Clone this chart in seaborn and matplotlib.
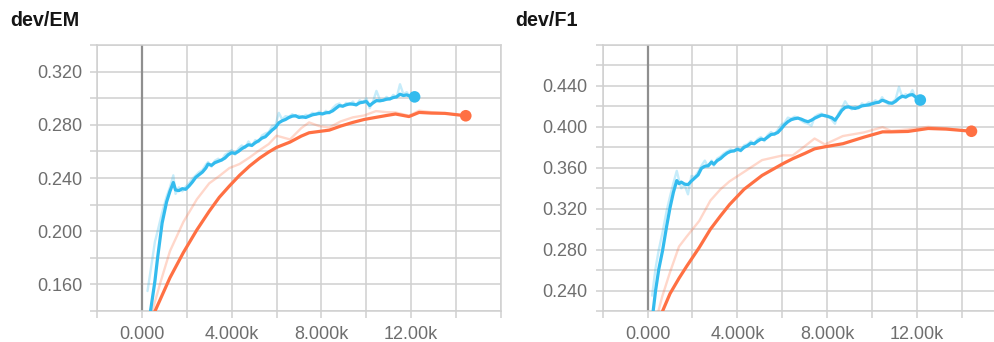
import matplotlib
matplotlib.use("Agg")
import matplotlib.pyplot as plt
import seaborn as sns
from matplotlib.ticker import MultipleLocator, FuncFormatter

# ---------------- data ----------------
titles = ["dev/EM", "dev/F1"]
x_tick_labels = {0: "0.000", 4000: "4.000k", 8000: "8.000k", 12000: "12.00k"}
em_ytick_labels = ["0.160", "0.200", "0.240", "0.280", "0.320"]
f1_ytick_labels = ["0.240", "0.280", "0.320", "0.360", "0.400", "0.440"]

# dev/EM, blue run
em_blue_steps = [250, 385, 580, 700, 900, 1100, 1250, 1400, 1500, 1650, 1800, 1950, 2100,
                 2250, 2400, 2550, 2700, 2850, 2950, 3100, 3250, 3400, 3550, 3700, 3850,
                 4000, 4150, 4300, 4450, 4600, 4750, 4900, 5050, 5200, 5350, 5500, 5650,
                 5800, 5950, 6100, 6250, 6400, 6550, 6700, 6850, 7000, 7150, 7300, 7450,
                 7600, 7750, 7900, 8050, 8200, 8350, 8500, 8650, 8800, 8950, 9100, 9250,
                 9400, 9550, 9700, 9850, 10000, 10150, 10300, 10450, 10600, 10750, 10900,
                 11050, 11200, 11350, 11500, 11650, 11800, 11950, 12150]
em_blue_smooth = [0.122, 0.140, 0.1625, 0.180, 0.206, 0.222, 0.230, 0.2366, 0.2310, 0.2305,
                  0.2320, 0.2315, 0.2340, 0.2370, 0.2405, 0.2425, 0.2445, 0.2475, 0.2505,
                  0.2495, 0.2515, 0.2525, 0.2535, 0.2550, 0.2575, 0.2590, 0.2585, 0.2600,
                  0.2620, 0.2635, 0.2650, 0.2645, 0.2665, 0.2680, 0.2700, 0.2710, 0.2735,
                  0.2760, 0.2780, 0.2815, 0.2830, 0.2840, 0.2855, 0.2865, 0.2868, 0.2855,
                  0.2860, 0.2855, 0.2865, 0.2875, 0.2880, 0.2885, 0.2882, 0.2890, 0.2893,
                  0.2905, 0.2925, 0.2944, 0.2940, 0.2950, 0.2957, 0.2955, 0.2950, 0.2965,
                  0.2970, 0.2975, 0.2945, 0.2965, 0.2982, 0.2980, 0.2985, 0.2992, 0.2995,
                  0.3005, 0.3010, 0.3030, 0.3020, 0.3025, 0.3015, 0.3010]
em_blue_raw = [0.155, 0.170, 0.192, 0.200, 0.214, 0.226, 0.233, 0.2420, 0.2280, 0.2330,
               0.2300, 0.2335, 0.2360, 0.2395, 0.2420, 0.2445, 0.2460, 0.2500, 0.2520,
               0.2485, 0.2530, 0.2545, 0.2530, 0.2575, 0.2590, 0.2610, 0.2575, 0.2620,
               0.2645, 0.2625, 0.2675, 0.2640, 0.2685, 0.2670, 0.2720, 0.2735, 0.2745,
               0.2790, 0.2795, 0.2890, 0.2840, 0.2865, 0.2860, 0.2880, 0.2860, 0.2870,
               0.2850, 0.2875, 0.2870, 0.2890, 0.2875, 0.2900, 0.2880, 0.2905, 0.2885,
               0.2925, 0.2950, 0.2960, 0.2935, 0.2965, 0.2950, 0.2975, 0.2945, 0.2985,
               0.2965, 0.3000, 0.2925, 0.2975, 0.3055, 0.2990, 0.2980, 0.3010, 0.2990,
               0.3025, 0.3005, 0.3105, 0.3030, 0.3045, 0.3010, 0.3015]

# dev/EM, orange run
em_orange_steps = [400, 800, 1250, 1850, 2450, 3000, 3450, 3900, 4350, 4800, 5250, 5650,
                   6000, 6600, 7100, 7450, 7900, 8350, 8850, 9400, 9900, 10430, 10900,
                   11300, 11900, 12350, 12900, 13500, 14430]
em_orange_smooth = [0.133, 0.148, 0.165, 0.184, 0.201, 0.215, 0.2255, 0.234, 0.242, 0.249,
                    0.255, 0.2595, 0.2630, 0.2670, 0.2715, 0.2740, 0.2750, 0.2760, 0.2790,
                    0.2818, 0.2840, 0.2856, 0.2870, 0.2881, 0.2862, 0.2893, 0.2888, 0.2886,
                    0.2868]
em_orange_raw = [0.136, 0.160, 0.185, 0.207, 0.224, 0.236, 0.2415, 0.2475, 0.2505, 0.2555,
                 0.2610, 0.2655, 0.2718, 0.2690, 0.2775, 0.2818, 0.2790, 0.2780, 0.2825,
                 0.2856, 0.2870, 0.2903, 0.2895, 0.2893, 0.2868, 0.2906, 0.2895, 0.2886,
                 0.2868]

# dev/F1, blue run
f1_blue_steps = [200, 356, 500, 667, 850, 1000, 1150, 1300, 1400, 1500, 1650, 1800, 1950,
                 2100, 2250, 2400, 2550, 2700, 2850, 2950, 3100, 3250, 3400, 3550, 3700,
                 3850, 4000, 4150, 4300, 4450, 4600, 4750, 4900, 5050, 5200, 5350, 5500,
                 5650, 5800, 5950, 6100, 6250, 6400, 6550, 6700, 6850, 7000, 7150, 7300,
                 7450, 7600, 7750, 7900, 8050, 8200, 8350, 8500, 8650, 8800, 8950, 9100,
                 9250, 9400, 9550, 9700, 9850, 10000, 10150, 10300, 10450, 10600, 10750,
                 10900, 11050, 11200, 11350, 11500, 11650, 11800, 11950, 12150]
f1_blue_smooth = [0.211, 0.240, 0.261, 0.279, 0.303, 0.321, 0.336, 0.3475, 0.3445, 0.3460,
                  0.3440, 0.3435, 0.3470, 0.3500, 0.3530, 0.3595, 0.3615, 0.3620, 0.3655,
                  0.3635, 0.3670, 0.3690, 0.3720, 0.3745, 0.3760, 0.3765, 0.3780, 0.3770,
                  0.3800, 0.3815, 0.3840, 0.3835, 0.3860, 0.3880, 0.3875, 0.3900, 0.3925,
                  0.3930, 0.3945, 0.3980, 0.4020, 0.4050, 0.4070, 0.4080, 0.4085, 0.4075,
                  0.4060, 0.4050, 0.4065, 0.4085, 0.4100, 0.4115, 0.4110, 0.4100, 0.4090,
                  0.4065, 0.4110, 0.4160, 0.4190, 0.4195, 0.4185, 0.4180, 0.4190, 0.4205,
                  0.4210, 0.4215, 0.4225, 0.4235, 0.4240, 0.4260, 0.4250, 0.4235, 0.4230,
                  0.4250, 0.4280, 0.4300, 0.4290, 0.4310, 0.4315, 0.4290, 0.4262]
f1_blue_raw = [0.235, 0.262, 0.280, 0.297, 0.318, 0.332, 0.345, 0.357, 0.348, 0.340,
               0.343, 0.334, 0.352, 0.351, 0.356, 0.362, 0.367, 0.361, 0.367, 0.362,
               0.369, 0.371, 0.374, 0.376, 0.378, 0.376, 0.380, 0.376, 0.382, 0.383,
               0.386, 0.383, 0.388, 0.390, 0.386, 0.392, 0.395, 0.392, 0.397, 0.402,
               0.404, 0.409, 0.408, 0.410, 0.409, 0.406, 0.404, 0.403, 0.401, 0.410,
               0.412, 0.413, 0.410, 0.411, 0.407, 0.403, 0.413, 0.418, 0.425, 0.420,
               0.417, 0.420, 0.418, 0.423, 0.421, 0.424, 0.423, 0.426, 0.424, 0.429,
               0.424, 0.422, 0.424, 0.427, 0.439, 0.429, 0.432, 0.430, 0.436, 0.428, 0.427]

# dev/F1, orange run
f1_orange_steps = [400, 650, 1000, 1400, 1750, 2300, 2800, 3250, 3650, 4300, 5100, 6030,
                   6470, 7000, 7440, 7900, 8700, 9650, 10470, 10850, 11600, 12500, 13300,
                   14430]
f1_orange_smooth = [0.205, 0.219, 0.237, 0.252, 0.264, 0.282, 0.300, 0.313, 0.324, 0.339,
                    0.3525, 0.3640, 0.3689, 0.3740, 0.3785, 0.3805, 0.3835, 0.3900, 0.3951,
                    0.3951, 0.3955, 0.3984, 0.3978, 0.3957]
f1_orange_raw = [0.213, 0.234, 0.258, 0.283, 0.293, 0.308, 0.328, 0.339, 0.3467, 0.3560,
                 0.3675, 0.3721, 0.3721, 0.3810, 0.3886, 0.3828, 0.3910, 0.3946, 0.3997,
                 0.3960, 0.3975, 0.4000, 0.3985, 0.3957]

# ---------------- style ----------------
BLUE = "#33bbee"
ORANGE = "#ff7043"
GRID = "#d0d0d0"
ZERO = "#8f8f8f"
LABEL = "#6e6e6e"

sns.set_theme(style="white")
plt.rcParams["font.family"] = ["Liberation Sans", "DejaVu Sans"]

W, H = 994, 342
fig = plt.figure(figsize=(W / 100, H / 100), dpi=100)


def px_axes(l, t, r, b):
    return fig.add_axes([l / W, 1 - b / H, (r - l) / W, (b - t) / H])


ax1 = px_axes(97, 45, 501, 311)
ax2 = px_axes(602.7, 45, 1006.7, 311)


def draw(ax, ylim, ylabels, runs):
    for steps, smooth, raw, color in runs:
        sns.lineplot(x=steps, y=raw, ax=ax, color=color, alpha=0.28, linewidth=1.7,
                     estimator=None, sort=False, zorder=3)
    for steps, smooth, raw, color in runs:
        sns.lineplot(x=steps, y=smooth, ax=ax, color=color, linewidth=2.3,
                     estimator=None, sort=False, zorder=4)
        sns.scatterplot(x=[steps[-1]], y=[smooth[-1]], ax=ax, color=color, s=70,
                        edgecolor="none", zorder=5)
    ax.set_xlim(-2000, 16000)
    ax.set_ylim(*ylim)
    ax.xaxis.set_major_locator(MultipleLocator(2000))
    ax.yaxis.set_major_locator(MultipleLocator(0.02))
    ax.xaxis.set_major_formatter(
        FuncFormatter(lambda v, p: x_tick_labels.get(int(round(v)), "")))
    ax.yaxis.set_major_formatter(
        FuncFormatter(lambda v, p: ("%.3f" % v) if ("%.3f" % v) in ylabels else ""))
    ax.grid(True, color=GRID, linewidth=1.1, zorder=0)
    ax.set_axisbelow(True)
    ax.axvline(0, color=ZERO, linewidth=1.6, zorder=2)
    for s in ax.spines.values():
        s.set_color(GRID)
        s.set_linewidth(1.1)
    ax.tick_params(axis="both", which="major", length=5, width=1.1, color=GRID,
                   labelcolor=LABEL, labelsize=13, bottom=True, left=True)
    ax.tick_params(axis="x", pad=5.5)
    ax.tick_params(axis="y", pad=5.8)
    ax.set_xlabel("")
    ax.set_ylabel("")


draw(ax1, (0.14, 0.34), em_ytick_labels,
     [(em_blue_steps, em_blue_smooth, em_blue_raw, BLUE),
      (em_orange_steps, em_orange_smooth, em_orange_raw, ORANGE)])
draw(ax2, (0.22, 0.48), f1_ytick_labels,
     [(f1_blue_steps, f1_blue_smooth, f1_blue_raw, BLUE),
      (f1_orange_steps, f1_orange_smooth, f1_orange_raw, ORANGE)])

fig.text(10 / W, 1 - 26 / H, titles[0], fontsize=14.2, color="#151515",
         fontweight="bold", ha="left", va="baseline")
fig.text(515 / W, 1 - 26 / H, titles[1], fontsize=14.2, color="#151515",
         fontweight="bold", ha="left", va="baseline")

fig.savefig("out.png", dpi=100)
